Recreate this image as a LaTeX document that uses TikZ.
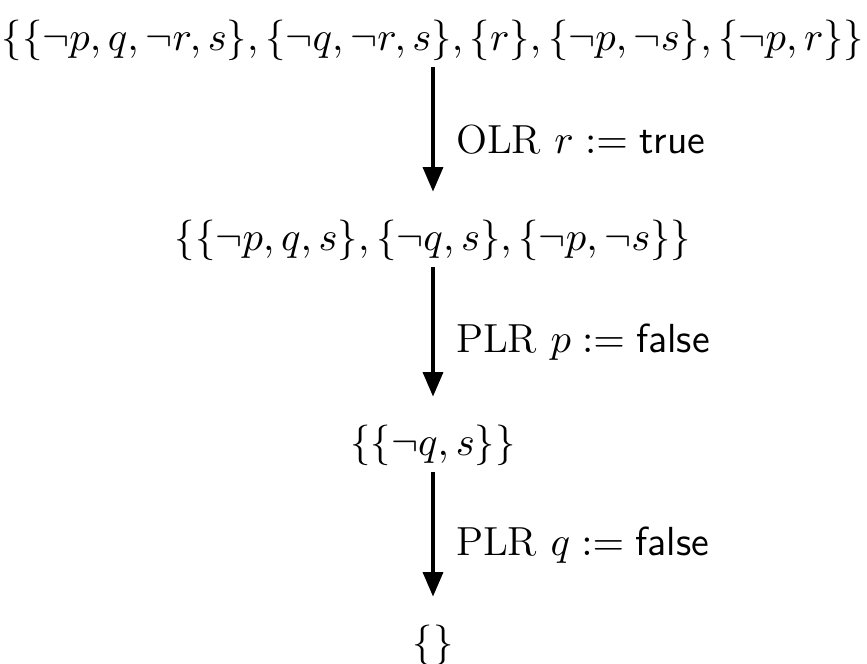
\documentclass[tikz,border=0pt]{standalone}
\usepackage{fix-cm}
\usepackage{amsmath,amssymb}
\usetikzlibrary{arrows.meta,positioning}
\tikzset{
clauses/.style={inner sep=0pt,outer sep=0pt,font=\fontsize{11.6}{14}\selectfont},
reduce/.style={-{Triangle[width=5.6pt,length=7pt]},line width=1.2pt,draw=black,shorten <=2pt,shorten >=8pt},
rulelabel/.style={right,inner sep=0pt,xshift=6pt,font=\fontsize{11.6}{14}\selectfont}}

\begin{document}
\begin{tikzpicture}[x=0.2857pt,y=-0.2857pt]
\useasboundingbox (0,0) rectangle (867,663);
\node[clauses] (s0) at (433,40) {$\{\{\neg p, q, \neg r, s\}, \{\neg q, \neg r, s\}, \{r\}, \{\neg p, \neg s\}, \{\neg p, r\}\}$};
\node[clauses] (s1) at (433,240) {$\{\{\neg p, q, s\}, \{\neg q, s\}, \{\neg p, \neg s\}\}$};
\node[clauses] (s2) at (433,445) {$\{\{\neg q, s\}\}$};
\node[clauses] (s3) at (433,645) {$\{\}$};
\draw[reduce] (s0) -- node[rulelabel] {OLR $r := \textsf{true}$} (s1);
\draw[reduce] (s1) -- node[rulelabel] {PLR $p := \textsf{false}$} (s2);
\draw[reduce] (s2) -- node[rulelabel] {PLR $q := \textsf{false}$} (s3);
\end{tikzpicture}
\end{document}
